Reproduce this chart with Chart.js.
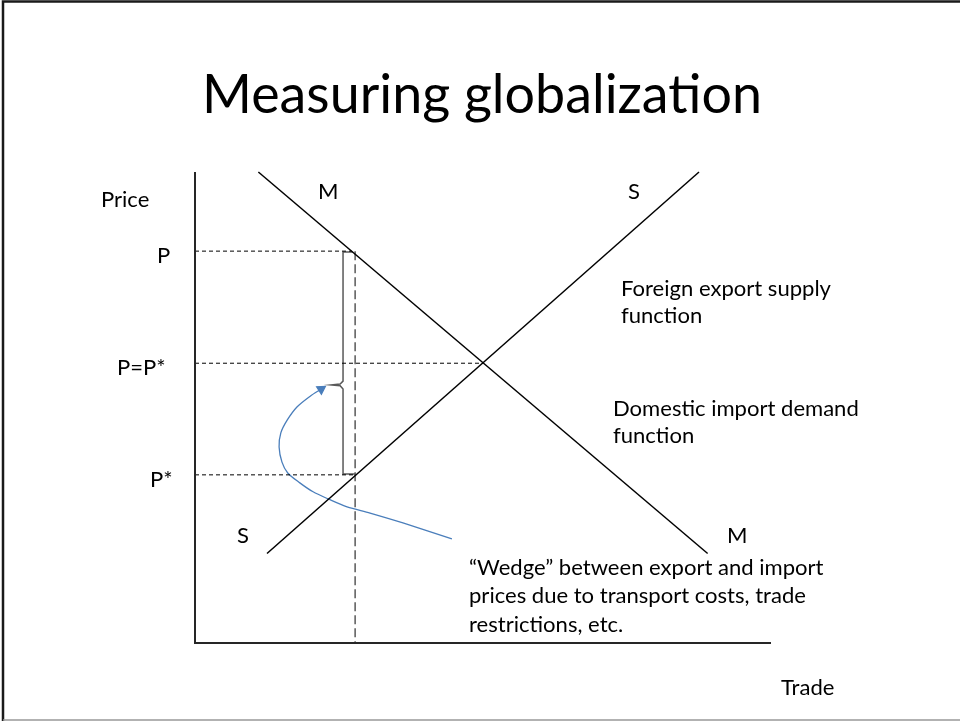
<!DOCTYPE html>
<html>
<head>
<meta charset="utf-8">
<title>Measuring globalization</title>
<script src="https://cdn.jsdelivr.net/npm/chart.js@4"></script>
<style>
    html, body { margin: 0; padding: 0; background: #fff; }
    #wrap { position: relative; width: 960px; height: 721px; }
</style>
</head>
<body>
<div id="wrap"><canvas id="slideChart" width="960" height="721"></canvas></div>
<script>
// Both axes run 0..100 (trade on x, price on y)
const priceLabels = ['P', 'P=P*', 'P*'];
const priceLevels = [83.2, 59.4, 35.7];
const guideEnds = [27.2, 50, 28];        // where each price guide meets a curve

const demandX = [11, 89];                // M: domestic import demand
const demandY = [100, 19];
const supplyX = [12.5, 87.5];            // S: foreign export supply
const supplyY = [19, 100];

const tradeX = [27.8, 27.8];             // traded quantity under the wedge
const tradeY = [83.2, 0];

const braceX = [27.4, 25.7, 25.7, 25.2, 23.6, 25.2, 25.7, 25.7, 27.8];
const braceY = [83.0, 83.0, 55.6, 55.0, 54.8, 54.6, 53.9, 35.9, 35.9];

// curved pointer from the note up to the brace
const arrowX = [44.6, 36.1, 30.4, 26.4, 23.1, 20.5, 18.2, 16.1, 15.1, 14.6, 14.9, 16.0, 17.7, 20.0, 21.9];
const arrowY = [22.1, 25.5, 27.6, 28.9, 30.6, 32.1, 34.0, 36.1, 38.4, 41.6, 44.6, 47.3, 50.1, 52.4, 53.9];

const axisX = [0, 0, 100];
const axisY = [100, 0, 0];

const COLORS = {
    ink: '#000000',
    axis: '#262626',
    grey: '#595959',
    blue: '#4a7ebb',
    border: '#1a1a1a'
};
const FONT = "Lato, 'Liberation Sans', sans-serif";

const pts = (xs, ys) => xs.map((x, i) => ({ x: x, y: ys[i] }));

function line(data, color, width, dash, extra) {
    return Object.assign({
        data: data,
        showLine: true,
        borderColor: color,
        backgroundColor: color,
        borderWidth: width,
        borderDash: dash || [],
        pointRadius: 0,
        pointHoverRadius: 0,
        tension: 0,
        clip: false
    }, extra || {});
}

const datasets = [
    line(pts(axisX, axisY), COLORS.axis, 2),
    line(pts(demandX, demandY), COLORS.ink, 1.5),
    line(pts(supplyX, supplyY), COLORS.ink, 1.5)
];
priceLevels.forEach((lvl, i) => {
    datasets.push(line(pts([0, guideEnds[i]], [lvl, lvl]), COLORS.ink, 1, [4, 3]));
});
datasets.push(line(pts(tradeX, tradeY), COLORS.grey, 1.5, [9, 4]));
datasets.push(line(pts(braceX, braceY), COLORS.grey, 1.5));
datasets.push(line(pts(arrowX, arrowY), COLORS.blue, 1.3, [], {
    tension: 0.3,
    pointStyle: 'triangle',
    pointRadius: arrowX.map((_, i) => i === arrowX.length - 1 ? 5 : 0),
    rotation: function (c) {
        // point the head along the last segment
        const xs = c.chart.scales.x, ys = c.chart.scales.y;
        const n = arrowX.length;
        const dx = xs.getPixelForValue(arrowX[n - 1]) - xs.getPixelForValue(arrowX[n - 2]);
        const dy = ys.getPixelForValue(arrowY[n - 1]) - ys.getPixelForValue(arrowY[n - 2]);
        return Math.atan2(dx, -dy) * 180 / Math.PI;
    }
}));

// font size that makes the text span the wanted width
function fitSize(ctx, text, width, base) {
    ctx.font = base + 'px ' + FONT;
    return base * width / ctx.measureText(text).width;
}

const slidePlugin = {
    id: 'slide',
    beforeDraw(chart) {
        const ctx = chart.ctx;
        ctx.save();
        ctx.fillStyle = '#fff';
        ctx.fillRect(0, 0, chart.width, chart.height);
        ctx.strokeStyle = COLORS.border;
        ctx.lineWidth = 2.5;
        ctx.beginPath();
        ctx.moveTo(3, 721);
        ctx.lineTo(3, 1.5);
        ctx.lineTo(960, 1.5);
        ctx.stroke();
        ctx.strokeStyle = '#999';
        ctx.lineWidth = 1.5;
        ctx.beginPath();
        ctx.moveTo(3, 720);
        ctx.lineTo(960, 720);
        ctx.stroke();
        ctx.restore();
    },
    afterDraw(chart) {
        const ctx = chart.ctx;
        const ys = chart.scales.y;
        ctx.save();
        ctx.fillStyle = '#000';
        ctx.textBaseline = 'alphabetic';

        // title
        const tSize = fitSize(ctx, 'Measuring globalization', 560, 48);
        ctx.font = tSize + 'px ' + FONT;
        ctx.textAlign = 'center';
        ctx.fillText('Measuring globalization', 482, 113);

        ctx.textAlign = 'left';
        const size = fitSize(ctx, 'Foreign export supply', 210, 20);
        ctx.font = size + 'px ' + FONT;

        // price labels sit just under their guide lines
        const labelLeft = [157, 117, 150];
        priceLabels.forEach((t, i) => {
            ctx.fillText(t, labelLeft[i], ys.getPixelForValue(priceLevels[i]) + 12);
        });
        ctx.fillText('Price', 101, 207);
        ctx.fillText('Trade', 781, 695);

        // curve names
        ctx.fillText('M', 318, 199);
        ctx.fillText('S', 628, 199);
        ctx.fillText('S', 237, 543);
        ctx.fillText('M', 727, 543);

        const notes = [
            ['Foreign export supply', 621, 296],
            ['function', 621, 323],
            ['Domestic import demand', 613, 416],
            ['function', 613, 443],
            ['\u201CWedge\u201D between export and import', 469, 575],
            ['prices due to transport costs, trade', 469, 603],
            ['restrictions, etc.', 469, 632]
        ];
        notes.forEach(n => ctx.fillText(n[0], n[1], n[2]));
        ctx.restore();
    }
};

new Chart(document.getElementById('slideChart').getContext('2d'), {
    type: 'scatter',
    data: { datasets: datasets },
    options: {
        responsive: false,
        animation: false,
        devicePixelRatio: 1,
        layout: { padding: { left: 195, top: 172, right: 189, bottom: 78 } },
        plugins: { legend: { display: false }, tooltip: { enabled: false } },
        events: [],
        scales: {
            x: { type: 'linear', min: 0, max: 100, display: false },
            y: { type: 'linear', min: 0, max: 100, display: false }
        }
    },
    plugins: [slidePlugin]
});
</script>
</body>
</html>
